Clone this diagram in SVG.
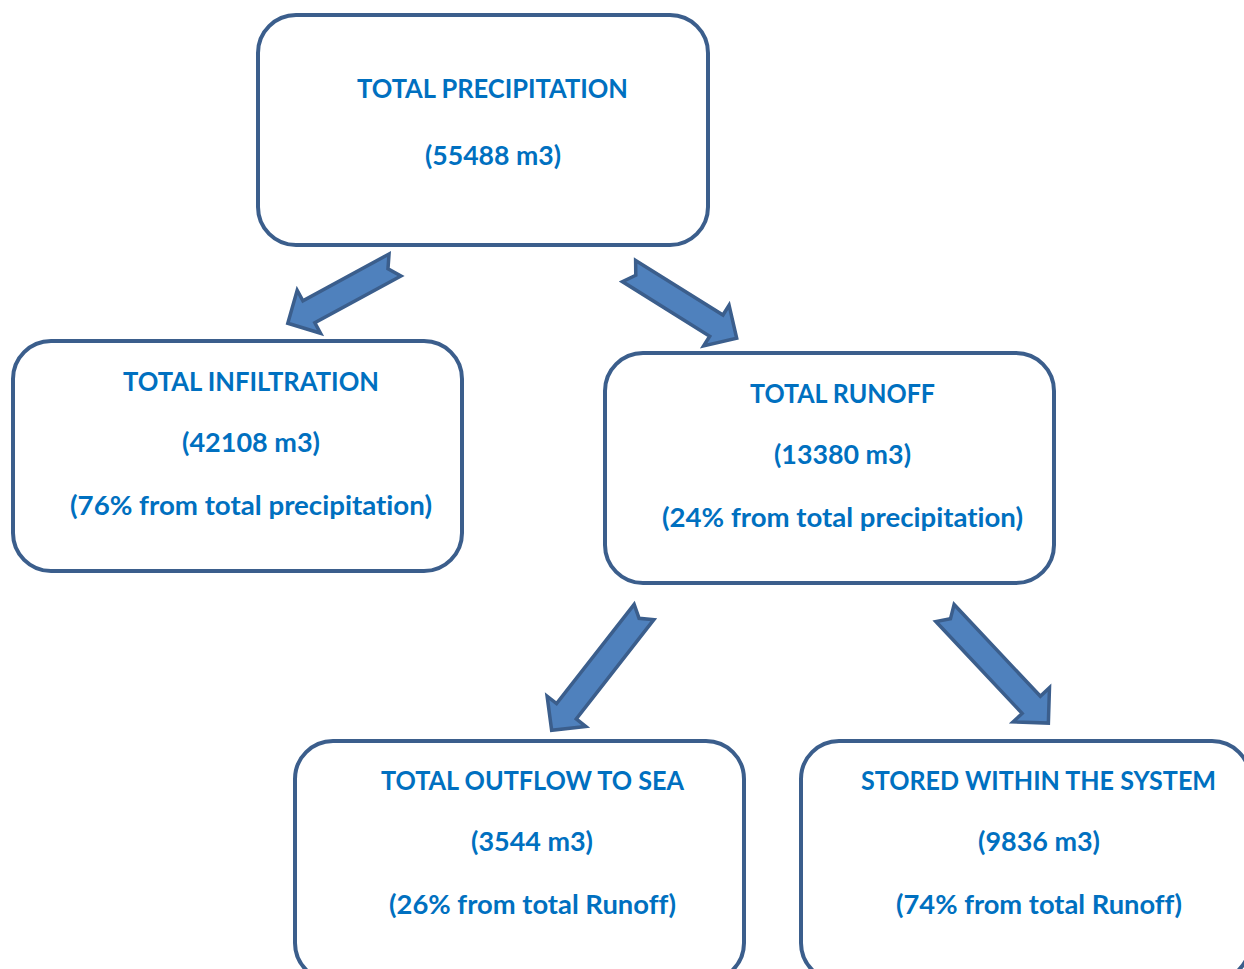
<svg xmlns="http://www.w3.org/2000/svg" width="1244" height="969" viewBox="0 0 1244 969">
<style>
.box{fill:#ffffff;stroke:#3b5e8c;stroke-width:4}
.t{font-family:Lato,"Open Sans","Liberation Sans",sans-serif;font-weight:700;font-size:26px;fill:#0070c0;text-anchor:middle;font-variant-ligatures:none}
.arr{fill:#4f81bd;stroke:#3b5e8c;stroke-width:3.5;stroke-linejoin:miter}
</style>
<rect width="1244" height="969" fill="#ffffff"/>
<g id="connectors">
<polygon class="arr" transform="translate(395,265) rotate(151.5)" points="0,-12.5 98,-12.5 98,-24.5 122,0 98,24.5 98,12.5 0,12.5 8,0"/>
<polygon class="arr" transform="translate(629,271) rotate(32)" points="0,-12.5 103,-12.5 103,-24 127,0 103,24 103,12.5 0,12.5 8,0"/>
<polygon class="arr" transform="translate(644,612) rotate(128)" points="0,-12.5 126,-12.5 126,-24.5 150,0 126,24.5 126,12.5 0,12.5 8,0"/>
<polygon class="arr" transform="translate(945,613) rotate(46.8)" points="0,-12.5 126,-12.5 126,-25 151,0 126,25 126,12.5 0,12.5 8,0"/>
</g>
<g id="precipitation">
<rect class="box" x="258" y="15" width="450" height="230" rx="38"/>
<text class="t" x="492.5" y="98" textLength="271" lengthAdjust="spacingAndGlyphs">TOTAL PRECIPITATION</text>
<text class="t" x="493" y="165" textLength="136" lengthAdjust="spacingAndGlyphs">(55488 m3)</text>
</g>
<g id="infiltration">
<rect class="box" x="13" y="341" width="449" height="230" rx="38"/>
<text class="t" x="251" y="391" textLength="256" lengthAdjust="spacingAndGlyphs">TOTAL INFILTRATION</text>
<text class="t" x="251" y="452" textLength="138" lengthAdjust="spacingAndGlyphs">(42108 m3)</text>
<text class="t" x="251" y="515" textLength="362" lengthAdjust="spacingAndGlyphs">(76% from total precipitation)</text>
</g>
<g id="runoff">
<rect class="box" x="605" y="353" width="449" height="230" rx="38"/>
<text class="t" x="842.5" y="403" textLength="185" lengthAdjust="spacingAndGlyphs">TOTAL RUNOFF</text>
<text class="t" x="842.5" y="464" textLength="137" lengthAdjust="spacingAndGlyphs">(13380 m3)</text>
<text class="t" x="842.5" y="527" textLength="361" lengthAdjust="spacingAndGlyphs">(24% from total precipitation)</text>
</g>
<g id="outflow">
<rect class="box" x="295" y="741" width="449" height="240" rx="38"/>
<text class="t" x="532.5" y="790" textLength="303" lengthAdjust="spacingAndGlyphs">TOTAL OUTFLOW TO SEA</text>
<text class="t" x="532" y="851" textLength="122" lengthAdjust="spacingAndGlyphs">(3544 m3)</text>
<text class="t" x="532.5" y="914" textLength="287" lengthAdjust="spacingAndGlyphs">(26% from total Runoff)</text>
</g>
<g id="stored">
<rect class="box" x="801" y="741" width="449" height="240" rx="38"/>
<text class="t" x="1038.5" y="790" textLength="355" lengthAdjust="spacingAndGlyphs">STORED WITHIN THE SYSTEM</text>
<text class="t" x="1039" y="851" textLength="122" lengthAdjust="spacingAndGlyphs">(9836 m3)</text>
<text class="t" x="1039" y="914" textLength="286" lengthAdjust="spacingAndGlyphs">(74% from total Runoff)</text>
</g>
</svg>
